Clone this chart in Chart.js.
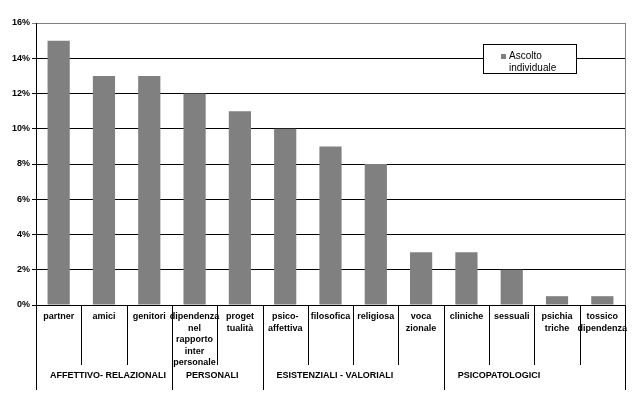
<!DOCTYPE html>
<html>
<head>
<meta charset="utf-8">
<script src="https://cdn.jsdelivr.net/npm/chart.js@4"></script>
<style>
  html, body { margin: 0; padding: 0; background: #fff; }
  #wrap { width: 639px; height: 398px; }
</style>
</head>
<body>
<div id="wrap"><canvas id="myChart" width="639" height="398"></canvas></div>
<script>
// categories (multi-line like the original)
const categorie = [
    ['partner'], ['amici'], ['genitori'],
    ['dipendenza', 'nel', 'rapporto', 'inter', 'personale'], ['proget', 'tualità'],
    ['psico-', 'affettiva'], ['filosofica'], ['religiosa'], ['voca', 'zionale'],
    ['cliniche'], ['sessuali'], ['psichia', 'triche'], ['tossico', 'dipendenza']
];
const ascolto = [15, 13, 13, 12, 11, 10, 9, 8, 3, 3, 2, 0.5, 0.5];
const gruppi = ['AFFETTIVO- RELAZIONALI', 'PERSONALI', 'ESISTENZIALI - VALORIALI', 'PSICOPATOLOGICI'];
const gruppiCount = [3, 2, 4, 4];
const yTicks = [0, 2, 4, 6, 8, 10, 12, 14, 16];
const serieLabel = ['Ascolto', 'individuale'];

const fontBold = { family: 'Arial, "Liberation Sans", sans-serif', size: 9, weight: 'bold' };

// separators, group labels, legend box
const extraPlugin = {
    id: 'extra',
    afterDraw(chart) {
        const c = chart.ctx;
        const x = chart.scales.x;
        const a = chart.chartArea;
        const step = (a.right - a.left) / categorie.length;
        c.save();
        // right border of plot
        c.strokeStyle = '#808080';
        c.lineWidth = 1;
        c.beginPath();
        c.moveTo(a.right + 0.5, a.top);
        c.lineTo(a.right + 0.5, a.bottom);
        c.stroke();

        // boundaries between groups
        let bounds = [0];
        let acc = 0;
        gruppiCount.forEach(n => { acc += n; bounds.push(acc); });

        c.strokeStyle = '#000';
        for (let i = 0; i <= categorie.length; i++) {
            const px = Math.round(x.getPixelForValue(i - 0.5)) + 0.5;
            const isGroup = bounds.includes(i);
            c.beginPath();
            c.moveTo(px, a.bottom);
            c.lineTo(px, isGroup ? a.bottom + 85 : a.bottom + 60);
            c.stroke();
        }

        // group labels
        c.fillStyle = '#000';
        c.font = 'bold 9px Arial, "Liberation Sans", sans-serif';
        c.textBaseline = 'middle';
        c.textAlign = 'left';
        for (let g = 0; g < gruppi.length; g++) {
            const start = x.getPixelForValue(bounds[g] - 0.5);
            c.fillText(gruppi[g], start + 14, a.bottom + 71);
        }

        // legend box
        const lx = 483, ly = 44, lw = 93, lh = 29;
        c.fillStyle = '#fff';
        c.fillRect(lx, ly, lw, lh);
        c.strokeStyle = '#000';
        c.strokeRect(lx + 0.5, ly + 0.5, lw, lh);
        c.fillStyle = '#808080';
        c.fillRect(lx + 18, ly + 10, 5, 5);
        c.fillStyle = '#000';
        c.font = '10px Arial, "Liberation Sans", sans-serif';
        c.textBaseline = 'middle';
        c.fillText(serieLabel[0], lx + 26, ly + 12);
        c.fillText(serieLabel[1], lx + 26, ly + 24);
        c.restore();
    }
};

const ctx = document.getElementById('myChart');

const myChart = new Chart(ctx, {
    type: 'bar',
    data: {
        labels: categorie,
        datasets: [{
            label: serieLabel.join(' '),
            data: ascolto,
            backgroundColor: '#808080',
            borderWidth: 0,
            barPercentage: 0.49,
            categoryPercentage: 1
        }]
    },
    options: {
        responsive: false,
        animation: false,
        layout: { padding: { top: 23, right: 14, bottom: 0, left: 0 } },
        plugins: {
            legend: { display: false },
            tooltip: { enabled: false }
        },
        scales: {
            x: {
                grid: { display: false, drawTicks: false },
                border: { display: true, color: '#000', width: 1 },
                ticks: {
                    autoSkip: false,
                    maxRotation: 0,
                    padding: 6,
                    color: '#000',
                    font: Object.assign({ lineHeight: 1.28 }, fontBold)
                },
                afterFit(scale) { scale.height = 93; }
            },
            y: {
                min: 0,
                max: 16,
                afterBuildTicks(scale) { scale.ticks = yTicks.map(v => ({ value: v })); },
                grid: {
                    color: c => c.tick && c.tick.value === 16 ? '#808080' : '#000',
                    lineWidth: 1,
                    tickLength: 4
                },
                border: { display: true, color: '#000', width: 1 },
                ticks: {
                    color: '#000',
                    padding: 2,
                    font: fontBold,
                    callback: v => v + '%'
                },
                afterFit(scale) { scale.width = 36; }
            }
        }
    },
    plugins: [extraPlugin]
});
</script>
</body>
</html>
